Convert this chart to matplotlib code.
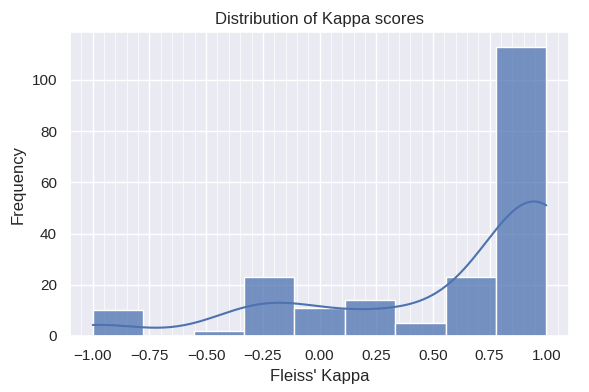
import numpy as np
import matplotlib
matplotlib.use("Agg")
import matplotlib.pyplot as plt
import seaborn as sns
from matplotlib.ticker import MultipleLocator

# Kappa score values (representative) and how many times each occurs
kappa_values = [-1.0, -0.9, -0.45, -0.32, -0.25, -0.18, 0.0, 0.3, 0.52, 0.64, 0.7, 0.76, 0.8, 0.9, 0.95, 1.0]
kappa_counts = [8, 2, 2, 9, 8, 6, 11, 14, 5, 5, 8, 10, 8, 10, 15, 80]
bin_count = 9

data = np.repeat(kappa_values, kappa_counts)

sns.set_theme(style="darkgrid")
plt.rcParams['font.family'] = ['Liberation Sans', 'DejaVu Sans']

fig, ax = plt.subplots(figsize=(5.89, 3.92), dpi=100)
sns.histplot(x=data, bins=bin_count, kde=True, alpha=0.75,
             kde_kws={"bw_adjust": 1.03}, ax=ax)
ax.xaxis.set_minor_locator(MultipleLocator(0.05))
ax.grid(which='minor', axis='x', color='white', linewidth=0.5)
ax.grid(which='major', color='white', linewidth=1.0)
ax.set_title("Distribution of Kappa scores")
ax.set_xlabel("Fleiss' Kappa")
ax.set_ylabel("Frequency")
fig.subplots_adjust(left=0.119, right=0.966, top=0.918, bottom=0.143)
fig.savefig("out.png", dpi=100)
